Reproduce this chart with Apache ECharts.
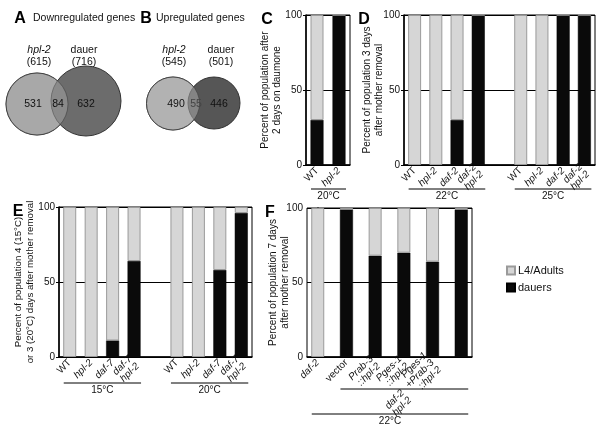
<!DOCTYPE html>
<html><head><meta charset="utf-8">
<script src="https://cdn.jsdelivr.net/npm/echarts@6/dist/echarts.min.js"></script>
<style>html,body{margin:0;padding:0;background:#fff}#c{width:600px;height:427px}</style>
</head><body><div id="c"></div>
<script>
// ---- Data ----
const vennANames = ['hpl-2', 'dauer'];
const vennATotals = [615, 716];
const vennACounts = [531, 84, 632];
const vennBNames = ['hpl-2', 'dauer'];
const vennBTotals = [545, 501];
const vennBCounts = [490, 55, 446];

const cCategories = ['WT', 'hpl-2'];
const cDauers = [30, 100];
const cL4 = [70, 0];

const dCategories = ['WT', 'hpl-2', 'daf-2', 'daf-2\nhpl-2', '', 'WT', 'hpl-2', 'daf-2', 'daf-2\nhpl-2'];
const dDauers = [0, 0, 30, 100, '-', 0, 0, 100, 100];
const dL4 = [100, 100, 70, 0, '-', 100, 100, 0, 0];

const eCategories = ['WT', 'hpl-2', 'daf-7', 'daf-7\nhpl-2', '', 'WT', 'hpl-2', 'daf-7', 'daf-7\nhpl-2'];
const eDauers = [0, 0, 11, 64, '-', 0, 0, 58, 96];
const eL4 = [100, 100, 89, 36, '-', 100, 100, 42, 4];

const fCategories = ['daf-2', 'vector', 'Prab-3\n::hpl-2', 'Pges-1\n::hpl-2', 'Pges-1\n+Prab-3\n::hpl-2', 'Plin-31\n::hpl-2'];
const fDauers = [0, 99, 68, 70, 64, 99];
const fL4 = [100, 1, 32, 30, 36, 1];

const yTicks = [0, 50, 100];
const normalLabels = ['WT', 'vector'];

// groups: [panel index, first idx, last idx, text, lineY]
const groupLines = [
  [0, 0, 1, '20°C', 189],
  [1, 0, 3, '22°C', 189],
  [1, 5, 8, '25°C', 189],
  [2, 0, 3, '15°C', 383],
  [2, 5, 8, '20°C', 383],
  [3, 1, 5, '', 389],
  [3, 0, 5, '22°C', 414]
];

// ---- Styles ----
const FONT = 'Liberation Sans, Arial, sans-serif';
const DARK = '#0a0a0a';
const LIGHT = '#d6d6d6';
const LIGHT_BORDER = '#9a9a9a';

function labelFmt(name) {
  if (!name) return '';
  const style = normalLabels.indexOf(name) >= 0 ? 'n' : 'i';
  return name.split('\n').map(s => '{' + style + '|' + s + '}').join('\n');
}
const rich = {
  i: { fontStyle: 'italic', fontSize: 10, fontFamily: FONT, color: '#111', lineHeight: 10 },
  n: { fontSize: 10, fontFamily: FONT, color: '#111', lineHeight: 10 }
};

const grids = [
  { left: 306, top: 15, width: 44, height: 150 },
  { left: 404, top: 15, width: 191, height: 150 },
  { left: 59, top: 207, width: 193, height: 150 },
  { left: 307, top: 208, width: 165, height: 149 }
].map(g => Object.assign(g, { show: true, borderColor: '#000', borderWidth: 1, containLabel: false }));

const yNames = [
  ['Percent of population after\n2 days on daumone', 23, 10],
  ['Percent of population 3 days\nafter mother removal', 19, 10],
  ['Percent of population 4 (15°C)\nor 3 (20°C) days after mother removal', 23, 9.7],
  ['Percent of population 7 days\nafter mother removal', 16, 10]
];

const yAxes = yNames.map((n, i) => ({
  type: 'value', gridIndex: i, min: 0, max: 100, interval: 50,
  name: n[0], nameLocation: 'middle', nameRotate: 90, nameGap: n[1], nameMoveOverlap: false,
  nameTextStyle: { fontSize: n[2], lineHeight: 12, color: '#111', fontFamily: FONT },
  axisLine: { show: true, lineStyle: { color: '#000', width: 1.5 } },
  axisTick: { show: true, length: 3, lineStyle: { color: '#000' } },
  axisLabel: { fontSize: 10, margin: 4, color: '#111', fontFamily: FONT },
  splitLine: { show: true, lineStyle: { color: '#000', width: 1 } }
}));

const xBase = {
  axisTick: { show: false },
  axisLine: { show: true, lineStyle: { color: '#000', width: 1.5 } },
  splitLine: { show: false }
};
const catsList = [cCategories, dCategories, eCategories];
const xAxes = catsList.map((cats, i) => Object.assign({
  type: 'category', gridIndex: i, data: cats,
  axisLabel: { rotate: 45, interval: 0, margin: 4, formatter: labelFmt, rich: rich }
}, xBase));
xAxes.push(Object.assign({
  type: 'value', gridIndex: 3, min: -0.375, max: 5.375,
  axisLabel: {
    rotate: 45, margin: 4, rich: rich,
    customValues: fCategories.map((_, i) => i),
    formatter: v => labelFmt(fCategories[Math.round(v)])
  }
}, xBase));

const series = [];
// panel F uses a value x axis; points are [percent, position] so the percent is the stacked dimension
const dauersSets = [cDauers, dDauers, eDauers, fDauers.map((v, i) => [v, i])];
const l4Sets = [cL4, dL4, eL4, fL4.map((v, i) => [v, i])];
for (let i = 0; i < 4; i++) {
  const enc = i === 3 ? { encode: { x: 1, y: 0 } } : {};
  series.push(Object.assign({
    name: 'dauers', type: 'bar', stack: 's' + i, xAxisIndex: i, yAxisIndex: i,
    barWidth: 13, data: dauersSets[i],
    itemStyle: { color: DARK, borderColor: '#000', borderWidth: 0.5 }
  }, enc));
  series.push(Object.assign({
    name: 'L4/Adults', type: 'bar', stack: 's' + i, xAxisIndex: i, yAxisIndex: i,
    barWidth: 13, data: l4Sets[i],
    itemStyle: { color: LIGHT, borderColor: LIGHT_BORDER, borderWidth: 1 }
  }, enc));
}

function txt(x, y, text, opt) {
  return {
    type: 'text', x: x, y: y, silent: true,
    style: Object.assign({ text: String(text), fill: '#111', fontFamily: FONT, fontSize: 10.5, align: 'center', verticalAlign: 'middle' }, opt || {})
  };
}
function circle(cx, cy, r, fill, opacity, stroke) {
  return { type: 'circle', shape: { cx: cx, cy: cy, r: r }, silent: true,
    style: { fill: fill, opacity: opacity, stroke: stroke || null, lineWidth: 1 } };
}

const staticGraphics = [
  // panel letters
  txt(20, 19, 'A', { fontSize: 16, fontWeight: 'bold', fill: '#000' }),
  txt(33, 18, 'Downregulated genes', { align: 'left' }),
  txt(146, 19, 'B', { fontSize: 16, fontWeight: 'bold', fill: '#000' }),
  txt(156, 18, 'Upregulated genes', { align: 'left' }),
  txt(267, 20, 'C', { fontSize: 16, fontWeight: 'bold', fill: '#000' }),
  txt(364, 20, 'D', { fontSize: 16, fontWeight: 'bold', fill: '#000' }),
  txt(18, 212, 'E', { fontSize: 16, fontWeight: 'bold', fill: '#000' }),
  txt(270, 213, 'F', { fontSize: 16, fontWeight: 'bold', fill: '#000' }),
  // Venn A
  circle(37, 104, 31, '#a8a8a8', 1, '#333'),
  circle(86, 101, 35, '#6c6c6c', 1, '#333'),
  circle(37, 104, 31, '#a8a8a8', 0.5, '#333'),
  txt(39, 50, vennANames[0], { fontStyle: 'italic' }),
  txt(39, 62, '(' + vennATotals[0] + ')'),
  txt(84, 50, vennANames[1]),
  txt(84, 62, '(' + vennATotals[1] + ')'),
  txt(33, 104, vennACounts[0]),
  txt(58, 104, vennACounts[1]),
  txt(86, 104, vennACounts[2]),
  // Venn B
  circle(173, 103.5, 26.5, '#b2b2b2', 1, '#333'),
  circle(214, 103, 26, '#565656', 1, '#333'),
  circle(173, 103.5, 26.5, '#b2b2b2', 0.5, '#333'),
  txt(174, 50, vennBNames[0], { fontStyle: 'italic' }),
  txt(174, 62, '(' + vennBTotals[0] + ')'),
  txt(221, 50, vennBNames[1]),
  txt(221, 62, '(' + vennBTotals[1] + ')'),
  txt(176, 104, vennBCounts[0]),
  txt(196, 104, vennBCounts[1], { fill: '#444' }),
  txt(219, 104, vennBCounts[2])
];

const chart = echarts.init(document.getElementById('c'), null, { renderer: 'canvas' });
chart.setOption({
  animation: false,
  backgroundColor: '#fff',
  grid: grids,
  xAxis: xAxes,
  yAxis: yAxes,
  series: series,
  legend: {
    data: ['L4/Adults', 'dauers'], orient: 'vertical', left: 501, top: 260,
    icon: 'rect', itemWidth: 8, itemHeight: 8, itemGap: 6, selectedMode: false,
    textStyle: { fontSize: 11, color: '#111', fontFamily: FONT, padding: [0, 0, 0, -2] }
  },
  graphic: staticGraphics
});

// annotation lines under category groups, positioned through the axes
const ann = [];
groupLines.forEach(g => {
  const x1 = chart.convertToPixel({ xAxisIndex: g[0] }, g[1]) - 6;
  const x2 = chart.convertToPixel({ xAxisIndex: g[0] }, g[2]) + 7;
  ann.push({ type: 'line', silent: true, shape: { x1: x1, y1: g[4], x2: x2, y2: g[4] }, style: { stroke: '#000', lineWidth: 1 } });
  if (g[3]) ann.push(txt((x1 + x2) / 2, g[4] + 7, g[3], { fontSize: 10 }));
});
// F genotype group label
{
  const x1 = chart.convertToPixel({ xAxisIndex: 3 }, 1) - 6;
  const x2 = chart.convertToPixel({ xAxisIndex: 3 }, 5) + 7;
  ann.push({ type: 'text', silent: true, x: (x1 + x2) / 2 + 2, y: 395, rotation: Math.PI / 4,
    style: { text: 'daf-2\nhpl-2', fontStyle: 'italic', fontSize: 10, lineHeight: 10, fontFamily: FONT, fill: '#111', align: 'right', verticalAlign: 'middle' } });
}
chart.setOption({ graphic: staticGraphics.concat(ann) });
</script>
</body></html>
